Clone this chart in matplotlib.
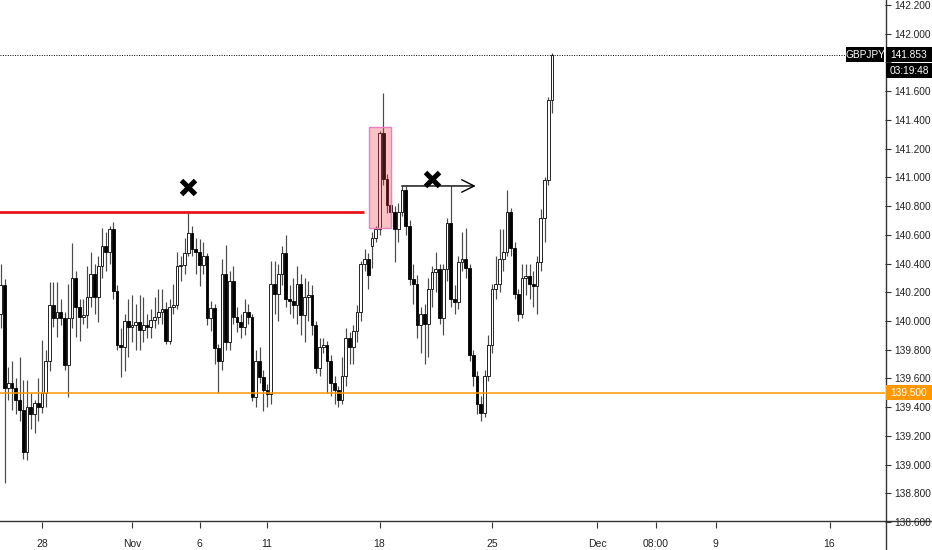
import matplotlib
matplotlib.use('Agg')
import matplotlib.pyplot as plt
from matplotlib.patches import Rectangle
from matplotlib.lines import Line2D
import numpy as np

plt.rcParams['font.family'] = ['Liberation Sans', 'DejaVu Sans']

# GBPJPY 4H candles, Oct 24 04:00 -> Nov 27 16:00
opens = [140.05, 140.25, 139.53, 139.57, 139.53, 139.45, 139.38, 139.09, 139.40, 139.35,
         139.43, 139.40, 139.50, 139.72, 140.11, 140.02, 140.06, 140.02, 139.69, 140.02,
         140.30, 140.10, 140.03, 140.04, 140.17, 140.33, 140.17, 140.38, 140.52, 140.48,
         140.64, 140.21, 139.83, 139.82, 140.00, 139.96, 139.97, 139.99, 139.94, 139.97,
         139.96, 140.01, 140.03, 140.06, 140.08, 139.86, 140.10, 140.11, 140.38, 140.39,
         140.47, 140.61, 140.50, 140.48, 140.39, 140.45, 140.02, 140.09, 139.81, 139.72,
         140.33, 139.85, 140.28, 140.03, 139.99, 139.96, 140.06, 140.03, 139.47, 139.72,
         139.61, 139.52, 139.49, 140.26, 140.19, 140.33, 140.47, 140.15, 140.14, 140.11,
         140.26, 140.04, 140.17, 140.18, 139.97, 139.67, 139.82, 139.83, 139.72, 139.57,
         139.52, 139.45, 139.62, 139.88, 139.82, 139.93, 140.06, 140.40, 140.43, 140.52,
         140.58, 140.64, 141.31, 140.99, 140.81, 140.76, 140.64, 140.76, 140.91, 140.66,
         140.29, 140.26, 139.97, 140.05, 139.98, 140.22, 140.34, 140.36, 140.02, 140.36,
         140.68, 140.15, 140.13, 140.41, 140.43, 140.37, 139.76, 139.62, 139.42, 139.36,
         139.62, 139.83, 140.22, 140.26, 140.43, 140.48, 140.76, 140.51, 140.19, 140.05,
         140.30, 140.31, 140.26, 140.24, 140.41, 140.72, 140.98, 141.54]
highs = [140.40, 140.29, 139.68, 139.72, 139.60, 139.75, 139.59, 139.59, 139.50, 139.45,
         139.60, 139.87, 139.80, 140.27, 140.27, 140.27, 140.15, 140.06, 140.26, 140.54,
         140.35, 140.15, 140.15, 140.38, 140.48, 140.40, 140.45, 140.65, 140.62, 140.66,
         140.69, 140.25, 139.95, 140.05, 140.15, 140.18, 140.12, 140.18, 140.17, 140.05,
         140.08, 140.17, 140.22, 140.22, 140.13, 140.15, 140.26, 140.48, 140.45, 140.58,
         140.75, 140.66, 140.58, 140.57, 140.55, 140.47, 140.14, 140.12, 139.84, 140.43,
         140.53, 140.35, 140.38, 140.10, 140.05, 140.15, 140.12, 140.05, 139.80, 139.82,
         139.66, 139.56, 140.42, 140.42, 140.40, 140.52, 140.60, 140.25, 140.30, 140.38,
         140.33, 140.30, 140.28, 140.25, 140.00, 139.88, 139.88, 139.86, 139.76, 139.62,
         139.55, 139.75, 139.95, 139.92, 139.97, 140.11, 140.42, 140.50, 140.47, 140.62,
         140.66, 141.32, 141.59, 141.02, 140.85, 140.80, 140.82, 140.94, 140.94, 140.70,
         140.40, 140.32, 140.10, 140.12, 140.30, 140.38, 140.48, 140.40, 140.40, 140.72,
         140.94, 140.25, 140.45, 140.62, 140.65, 140.40, 139.80, 139.65, 139.48, 139.66,
         139.90, 140.26, 140.45, 140.64, 140.64, 140.91, 140.79, 140.55, 140.22, 140.40,
         140.40, 140.40, 140.35, 140.45, 140.78, 141.00, 141.56, 141.866]
lows = [139.95, 138.87, 139.45, 139.38, 139.35, 139.30, 139.04, 139.03, 139.25, 139.22,
        139.30, 139.36, 139.40, 139.65, 139.96, 139.89, 139.97, 139.66, 139.47, 139.95,
        139.89, 139.86, 139.98, 139.95, 140.10, 140.05, 139.99, 140.30, 140.35, 140.40,
        140.15, 139.80, 139.61, 139.65, 139.75, 139.85, 139.80, 139.80, 139.85, 139.88,
        139.88, 139.95, 139.98, 139.98, 139.84, 139.84, 140.05, 140.08, 140.28, 140.33,
        140.45, 140.45, 140.33, 140.24, 140.33, 139.97, 139.93, 139.70, 139.50, 139.66,
        139.80, 139.80, 139.98, 139.92, 139.88, 139.90, 139.98, 139.44, 139.40, 139.57,
        139.37, 139.40, 139.42, 140.05, 140.00, 140.25, 140.10, 140.05, 140.02, 139.98,
        139.90, 139.85, 140.00, 139.90, 139.64, 139.62, 139.78, 139.50, 139.48, 139.42,
        139.40, 139.42, 139.55, 139.70, 139.70, 139.85, 140.00, 140.35, 140.22, 140.37,
        140.55, 140.60, 140.95, 140.75, 140.66, 140.41, 140.55, 140.73, 140.60, 140.25,
        140.12, 139.88, 139.78, 139.70, 139.75, 140.10, 140.20, 139.98, 139.90, 140.28,
        140.10, 140.05, 140.08, 140.35, 140.30, 139.72, 139.55, 139.35, 139.30, 139.33,
        139.58, 139.78, 140.15, 140.20, 140.35, 140.45, 140.45, 140.15, 140.00, 140.02,
        140.18, 140.15, 140.10, 140.05, 140.35, 140.55, 140.95, 141.45]
closes = [140.25, 139.53, 139.57, 139.53, 139.45, 139.38, 139.09, 139.40, 139.35, 139.43,
          139.40, 139.50, 139.72, 140.11, 140.02, 140.06, 140.02, 139.69, 140.02, 140.30,
          140.10, 140.03, 140.04, 140.17, 140.33, 140.17, 140.38, 140.52, 140.48, 140.64,
          140.21, 139.83, 139.82, 140.00, 139.96, 139.97, 139.99, 139.94, 139.97, 139.96,
          140.01, 140.03, 140.06, 140.08, 139.86, 140.10, 140.11, 140.38, 140.39, 140.47,
          140.61, 140.50, 140.48, 140.39, 140.45, 140.02, 140.09, 139.81, 139.72, 140.33,
          139.85, 140.28, 140.03, 139.99, 139.96, 140.06, 140.03, 139.47, 139.72, 139.61,
          139.52, 139.49, 140.26, 140.19, 140.33, 140.47, 140.15, 140.14, 140.11, 140.26,
          140.04, 140.17, 140.18, 139.97, 139.67, 139.82, 139.83, 139.72, 139.57, 139.52,
          139.45, 139.62, 139.88, 139.82, 139.93, 140.06, 140.40, 140.43, 140.32, 140.58,
          140.64, 141.31, 140.99, 140.81, 140.76, 140.64, 140.76, 140.91, 140.66, 140.29,
          140.26, 139.97, 140.05, 139.98, 140.22, 140.34, 140.36, 140.02, 140.36, 140.68,
          140.15, 140.13, 140.41, 140.43, 140.37, 139.76, 139.62, 139.42, 139.36, 139.62,
          139.83, 140.22, 140.26, 140.43, 140.48, 140.76, 140.51, 140.19, 140.05, 140.30,
          140.31, 140.26, 140.24, 140.41, 140.72, 140.98, 141.54, 141.853]

tick_pos = [11, 35, 53, 71, 101, 131, 159, 174.7, 190.7, 221]
tick_labels = ['28', 'Nov', '6', '11', '18', '25', 'Dec', '08:00', '9', '16']

last_price = 141.853
support = 139.5
resistance = 140.76

W, H = 932, 550
fig = plt.figure(figsize=(W / 100, H / 100), dpi=100)
ax = fig.add_axes([0, 28 / H, 885 / W, 522 / H])

o = np.array(opens)
h = np.array(highs)
l = np.array(lows)
c = np.array(closes)
x = np.arange(len(o))
up = c >= o

ax.vlines(x, l, h, color='#4a4a4a', lw=0.85, zorder=2)
body_lo = np.minimum(o, c)
body_h = np.maximum(np.abs(c - o), 0.006)
ax.bar(x, body_h, bottom=body_lo, width=0.72,
       color=np.where(up, 'white', 'black'), edgecolor='black', linewidth=0.6, zorder=3)

# drawings
ax.hlines(resistance, -1, 96.9, color='#e8141c', lw=2, zorder=4)
ax.axhline(support, color='#ff9800', lw=1.1, zorder=4)
ax.axhline(last_price, color='black', lw=0.7, ls=(0, (1, 1.5)), zorder=4)

ax.add_patch(Rectangle((98.2, 140.65), 5.9, 0.70, facecolor='#f23645', alpha=0.3,
                       edgecolor='none', zorder=5))
ax.add_patch(Rectangle((98.2, 140.65), 5.9, 0.70, facecolor='none',
                       edgecolor='#f07cc4', lw=1, zorder=5))

ax.plot([50.0, 115.0], [140.93, 140.99], ls='none', marker='x', ms=10, mew=3.6,
        color='black', zorder=6)
ax.annotate('', xy=(127.4, 140.94), xytext=(106.2, 140.94),
            arrowprops=dict(arrowstyle='->,head_length=0.9,head_width=0.45',
                            lw=1, color='black'), zorder=6)

ax.set_xlim(-0.2, 235.8)
ax.set_ylim(138.6, 142.235)

ax.yaxis.tick_right()
yt = np.arange(138.6, 142.21, 0.2)
ax.set_yticks(yt)
# 141.800 sits under the last-price boxes
ax.set_yticklabels(['' if abs(v - 141.8) < 0.01 else '%.3f' % v for v in yt])
ax.set_xticks(tick_pos)
ax.set_xticklabels(tick_labels)
ax.tick_params(axis='y', length=4, width=0.8, color='#333333', labelsize=7.3,
               labelcolor='#222222', pad=2.5)
ax.tick_params(axis='x', length=4, width=0.8, color='#333333', labelsize=7.5,
               labelcolor='#222222', pad=8.5)
for s in ax.spines.values():
    s.set_visible(False)

fig.lines.append(Line2D([0, 1], [29 / H, 29 / H], transform=fig.transFigure,
                        color='#333333', lw=1))
fig.lines.append(Line2D([885.5 / W, 885.5 / W], [0, 1], transform=fig.transFigure,
                        color='#333333', lw=1))


def label_box(price, text, x0, width, fc, dy=0):
    ypx = ax.transData.transform((0, price))[1] - dy
    fig.patches.append(Rectangle((x0 / W, (ypx - 7.5) / H), width / W, 15 / H,
                                 transform=fig.transFigure, fc=fc, ec='none', zorder=10))
    fig.text((x0 + width / 2) / W, ypx / H, text, color='white', fontsize=7.3,
             ha='center', va='center', zorder=11)


label_box(last_price, 'GBPJPY', 846, 38, 'black')
label_box(last_price, '141.853', 886, 46, 'black')
label_box(last_price, '03:19:48', 886, 46, 'black', dy=16)
label_box(support, '139.500', 886, 46, '#ff9800')

fig.savefig('out.png', dpi=100)
